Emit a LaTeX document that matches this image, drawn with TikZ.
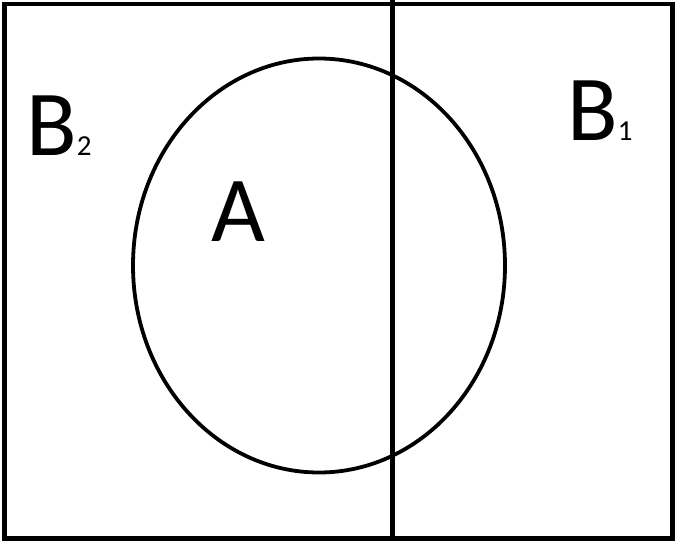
\documentclass[tikz,border=0pt]{standalone}
\usepackage{fontspec}
\setmainfont{Carlito}
\usepackage{tikz}

\begin{document}
\begin{tikzpicture}[x=1pt,y=-1pt]
            \useasboundingbox (0,0) rectangle (677,541);

            \coordinate (tl) at (4.5,4);
            \coordinate (br) at (672.5,538.5);
            \coordinate (t) at (392.5,0);
            \coordinate (u) at (392.5,538.5);
            \coordinate (c) at (319,265.5);

            \draw[line width=4.5pt] (tl) rectangle (br);
            \draw[line width=4.5pt] (t)--(u);
            \draw[line width=3.8pt] (c) ellipse (186 and 207);

            \node[inner sep=0pt,anchor=base west] (b2) at (26,155)
                {\fontsize{93}{93}\selectfont B\fontsize{29}{29}\selectfont 2};
            \node[inner sep=0pt,anchor=base west] (b1) at (567,140)
                {\fontsize{93}{93}\selectfont B\fontsize{29}{29}\selectfont 1};
            \node[inner sep=0pt,anchor=base west] (a) at (211,241)
                {\fontsize{93}{93}\selectfont A};
        \end{tikzpicture}
\end{document}
